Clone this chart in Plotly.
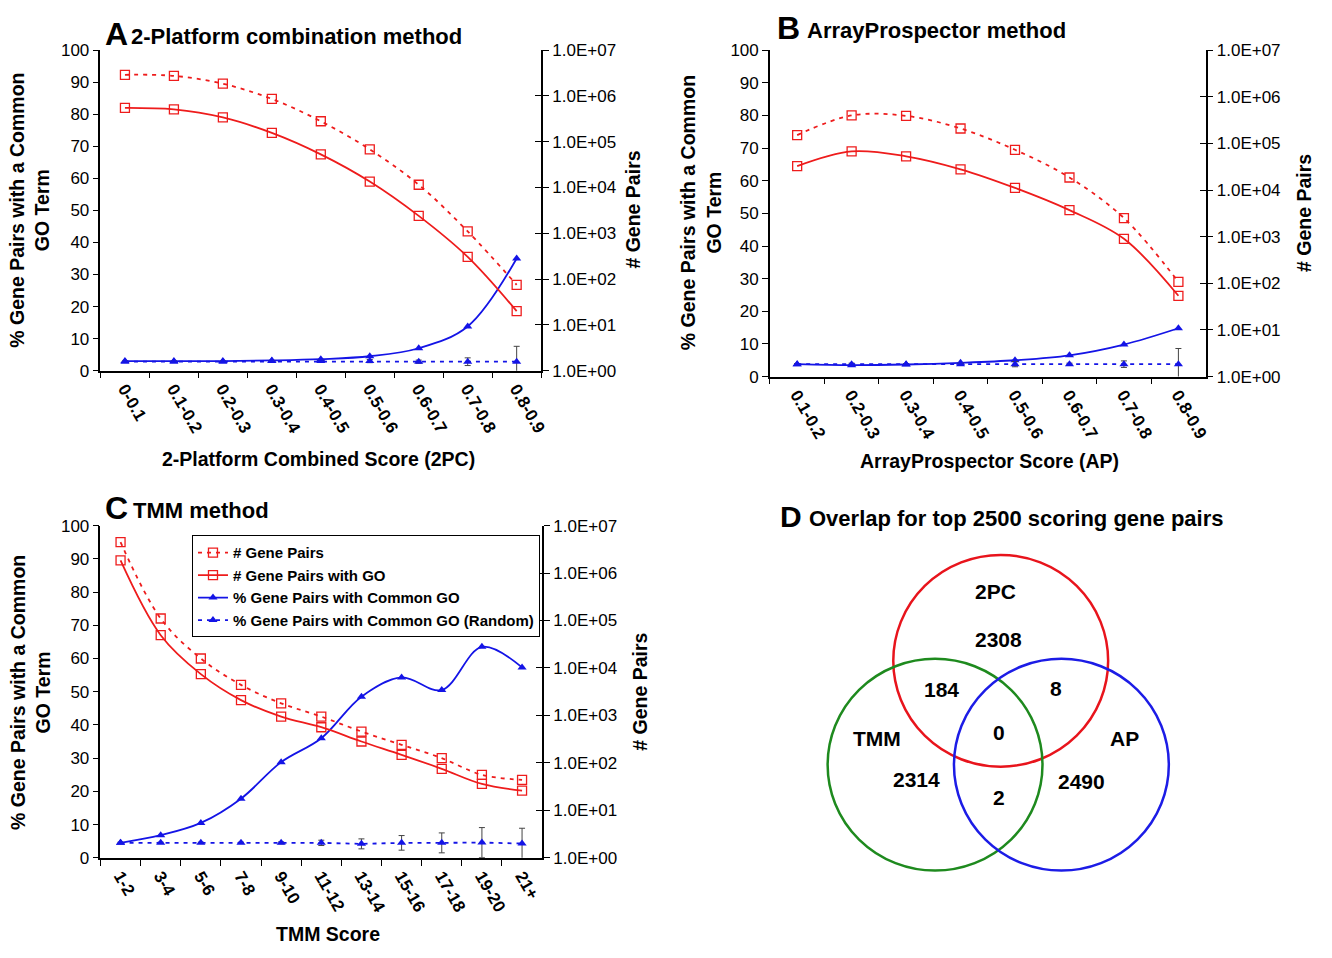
import plotly.graph_objects as go

W, H = 1332, 958

# ---------------- data ----------------
cats_a = ["0-0.1", "0.1-0.2", "0.2-0.3", "0.3-0.4", "0.4-0.5", "0.5-0.6", "0.6-0.7", "0.7-0.8", "0.8-0.9"]
pairs_a = [2.9e6, 2.75e6, 1.85e6, 8.6e5, 2.8e5, 6.8e4, 1.15e4, 1.1e3, 75]
pairs_go_a = [5.5e5, 5.1e5, 3.4e5, 1.56e5, 5.3e4, 1.35e4, 2.4e3, 305, 20]
common_a = [3.0, 3.0, 3.0, 3.2, 3.6, 4.5, 7.0, 13.8, 35.0]
random_a = [2.8, 2.8, 2.8, 3.0, 3.0, 3.0, 2.8, 2.8, 2.8]
random_err_a = [0.2, 0.2, 0.2, 0.2, 0.3, 0.5, 0.5, 1.2, 4.8]

cats_b = ["0.1-0.2", "0.2-0.3", "0.3-0.4", "0.4-0.5", "0.5-0.6", "0.6-0.7", "0.7-0.8", "0.8-0.9"]
pairs_b = [1.51e5, 3.98e5, 3.9e5, 2.09e5, 7.3e4, 1.86e4, 2.5e3, 107]
pairs_go_b = [3.27e4, 6.76e4, 5.3e4, 2.79e4, 1.11e4, 3.7e3, 900, 54]
common_b = [3.8, 3.5, 3.7, 4.2, 5.0, 6.5, 9.8, 14.8]
random_b = [3.8, 3.8, 3.8, 3.8, 3.8, 3.8, 3.8, 3.8]
random_err_b = [0.2, 0.3, 0.2, 0.3, 0.8, 0.3, 1.0, 4.8]

cats_c = ["1-2", "3-4", "5-6", "7-8", "9-10", "11-12", "13-14", "15-16", "17-18", "19-20", "21+"]
pairs_c = [4.47e6, 1.1e5, 1.58e4, 4.4e3, 1.8e3, 944, 457, 240, 126, 56, 44]
pairs_go_c = [1.84e6, 4.9e4, 7.4e3, 2.1e3, 944, 564, 282, 148, 75, 36, 26]
common_c = [4.5, 6.8, 10.5, 17.8, 28.8, 36.0, 48.5, 54.3, 50.5, 63.5, 57.3]
random_c = [4.5, 4.5, 4.5, 4.5, 4.5, 4.5, 4.2, 4.5, 4.5, 4.6, 4.3]
random_err_c = [0.2, 0.2, 0.2, 0.2, 0.3, 0.8, 1.5, 2.2, 3.0, 4.5, 4.6]

right_tickvals = [1, 10, 100, 1e3, 1e4, 1e5, 1e6, 1e7]
right_ticktext = ["1.0E+00", "1.0E+01", "1.0E+02", "1.0E+03", "1.0E+04", "1.0E+05", "1.0E+06", "1.0E+07"]

series_names = ["# Gene Pairs", "# Gene Pairs with GO",
                "% Gene Pairs with Common GO", "% Gene Pairs with Common GO (Random)"]

venn_sets = ["2PC", "TMM", "AP"]
venn_only = [2308, 2314, 2490]
venn_2pc_tmm = 184
venn_2pc_ap = 8
venn_tmm_ap = 2
venn_all = 0

# ---------------- helpers (page pixels -> paper fraction) ----------------
def px(x):
    return x / W

def py(y):
    return 1 - y / H

RED = "#ee1c1c"
BLUE = "#1414e6"
FONT = "Liberation Sans, Arial, sans-serif"

fig = go.Figure()

def add_panel(cats, pairs, pairs_go, common, rnd, err, xa, ya, ya2, legend):
    fig.add_trace(go.Scatter(
        x=cats, y=pairs, name=series_names[0], xaxis=xa, yaxis=ya2,
        mode="lines+markers", showlegend=legend, line_shape="spline",
        line=dict(color=RED, width=1.8, dash="4px,5px"),
        marker=dict(symbol="square-open", size=9, color=RED, line=dict(width=1.3))))
    fig.add_trace(go.Scatter(
        x=cats, y=pairs_go, name=series_names[1], xaxis=xa, yaxis=ya2,
        mode="lines+markers", showlegend=legend, line_shape="spline",
        line=dict(color=RED, width=1.8),
        marker=dict(symbol="square-open", size=9, color=RED, line=dict(width=1.3))))
    fig.add_trace(go.Scatter(
        x=cats, y=common, name=series_names[2], xaxis=xa, yaxis=ya,
        mode="lines+markers", showlegend=legend, line_shape="spline",
        line=dict(color=BLUE, width=1.8),
        marker=dict(symbol="triangle-up", size=8, color=BLUE)))
    fig.add_trace(go.Scatter(
        x=cats, y=rnd, name=series_names[3], xaxis=xa, yaxis=ya,
        mode="lines+markers", showlegend=legend,
        line=dict(color=BLUE, width=1.8, dash="4px,5px"),
        marker=dict(symbol="triangle-up", size=8, color=BLUE),
        error_y=dict(type="data", array=err, color="#444444", thickness=1, width=3)))

add_panel(cats_a, pairs_a, pairs_go_a, common_a, random_a, random_err_a, "x", "y", "y2", False)
add_panel(cats_b, pairs_b, pairs_go_b, common_b, random_b, random_err_b, "x2", "y3", "y4", False)
add_panel(cats_c, pairs_c, pairs_go_c, common_c, random_c, random_err_c, "x3", "y5", "y6", True)

def xax(domain, n, anchor):
    return dict(domain=domain, anchor=anchor, type="category", range=[-0.5, n - 0.5],
                showline=True, linecolor="black", linewidth=1.5, ticks="outside",
                tickson="boundaries", ticklen=6, tickcolor="black", tickangle=60,
                tickfont=dict(family=FONT, size=17, color="black", weight="bold"),
                showgrid=False, zeroline=False, fixedrange=True)

def yax(domain, anchor):
    return dict(domain=domain, anchor=anchor, range=[0, 100], dtick=10,
                showline=True, linecolor="black", linewidth=1.5, ticks="outside",
                ticklen=6, tickcolor="black", showgrid=False, zeroline=False,
                tickfont=dict(family=FONT, size=17, color="black"))

def y2ax(over, anchor):
    return dict(overlaying=over, anchor=anchor, side="right", type="log", range=[0, 7],
                tickvals=right_tickvals, ticktext=right_ticktext,
                showline=True, linecolor="black", linewidth=1.5, ticks="outside",
                ticklen=6, tickcolor="black", showgrid=False, zeroline=False,
                tickfont=dict(family=FONT, size=17, color="black"))

def y2inner(over, anchor):
    # inner half of the crossing tick marks on the right axis
    return dict(overlaying=over, anchor=anchor, side="right", type="log", range=[0, 7],
                tickvals=right_tickvals, showticklabels=False, showline=False,
                ticks="inside", ticklen=6, tickcolor="black", showgrid=False, zeroline=False)

fig.update_layout(
    width=W, height=H, margin=dict(l=0, r=0, t=0, b=0),
    paper_bgcolor="white", plot_bgcolor="rgba(0,0,0,0)",
    xaxis=xax([px(101), px(544)], len(cats_a), "y"),
    yaxis=yax([py(369), py(42)], "x"),
    yaxis2=y2ax("y", "x"),
    xaxis2=xax([px(774), px(1212)], len(cats_b), "y3"),
    yaxis3=yax([py(375), py(42)], "x2"),
    yaxis4=y2ax("y3", "x2"),
    xaxis3=xax([px(101), px(545)], len(cats_c), "y5"),
    yaxis5=yax([py(866), py(527)], "x3"),
    yaxis6=y2ax("y5", "x3"),
    yaxis7=y2inner("y", "x"),
    yaxis8=y2inner("y3", "x2"),
    yaxis9=y2inner("y5", "x3"),
    legend=dict(x=px(193), y=py(537), xanchor="left", yanchor="top",
                bordercolor="black", borderwidth=1, bgcolor="white",
                font=dict(family=FONT, size=15, color="black", weight="bold"),
                tracegroupgap=0, itemwidth=30),
)
# invisible carriers so the extra tick axes are drawn
for ya, xa in (("y7", "x"), ("y8", "x2"), ("y9", "x3")):
    fig.add_trace(go.Scatter(x=[None], y=[None], xaxis=xa, yaxis=ya, showlegend=False,
                             hoverinfo="skip"))

ann = []
def text(x, y, s, size=19.5, angle=0, xanchor="center", bold=True):
    ann.append(dict(x=px(x), y=py(y), xref="paper", yref="paper", text=(f"<b>{s}</b>" if bold else s),
                    showarrow=False, textangle=angle, xanchor=xanchor, yanchor="middle",
                    font=dict(family=FONT, size=size, color="black")))

# panel titles
text(104, 25, "A", 32, xanchor="left")
text(130, 28, "2-Platform combination method", 22, xanchor="left")
text(779, 19, "B", 32, xanchor="left")
text(809, 22, "ArrayProspector method", 22, xanchor="left")
text(104, 509, "C", 32, xanchor="left")
text(132, 512, "TMM method", 22, xanchor="left")
text(782, 518, "D", 30, xanchor="left")
text(811, 520, "Overlap for top 2500 scoring gene pairs", 22, xanchor="left")

# axis titles
left_title = "% Gene Pairs with a Common<br>GO Term"
text(30, 205, left_title, angle=-90)
text(705, 208, left_title, angle=-90)
text(30, 697, left_title, angle=-90)
text(636, 205, "# Gene Pairs", angle=-90)
text(1311, 208, "# Gene Pairs", angle=-90)
text(644, 697, "# Gene Pairs", angle=-90)
text(320, 459, "2-Platform Combined Score (2PC)")
text(995, 461, "ArrayProspector Score (AP)")
text(330, 944, "TMM Score")

# Venn diagram
circles = {"2PC": (1006, 665, 108, "#e8141c"),
           "TMM": (940, 771, 108, "#1e8a1e"),
           "AP": (1067, 771, 108, "#1c1ce6")}
shapes = []
for name in venn_sets:
    cx, cy, r, col = circles[name]
    shapes.append(dict(type="circle", xref="paper", yref="paper",
                       x0=px(cx - r), x1=px(cx + r), y0=py(cy + r), y1=py(cy - r),
                       line=dict(color=col, width=2.5)))

text(1001, 594, venn_sets[0], 21)
text(882, 744, venn_sets[1], 21)
text(1130, 744, venn_sets[2], 21)
text(1004, 643, str(venn_only[0]), 21)
text(921, 786, str(venn_only[1]), 21)
text(1087, 788, str(venn_only[2]), 21)
text(946, 694, str(venn_2pc_tmm), 21)
text(1062, 693, str(venn_2pc_ap), 21)
text(1004, 804, str(venn_tmm_ap), 21)
text(1004, 738, str(venn_all), 21)

fig.update_layout(annotations=ann, shapes=shapes)
fig.write_html("out.html")
